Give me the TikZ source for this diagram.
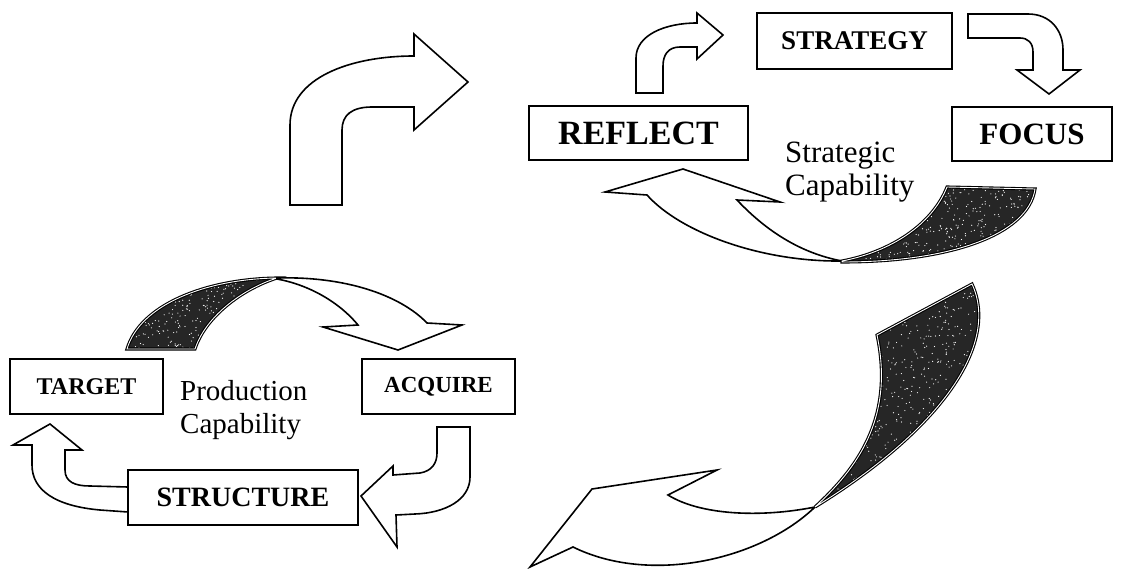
\documentclass[tikz,border=0pt]{standalone}
\usepackage{fontspec}
\setmainfont{Liberation Serif}
\usetikzlibrary{calc}
\begin{document}
\begin{tikzpicture}[x=1pt,y=-1pt,line join=miter,
  box/.style={draw,line width=1.7pt,fill=white,inner sep=0pt},
  blockarrow/.style={draw,line width=1.6pt,fill=white},
  darkpart/.style={draw,line width=1.1pt,double=white,double distance=0.9pt,fill=black!85,
    path picture={\foreach \i in {1,...,#1}{
      \fill[white] let \p1=(path picture bounding box.south west),
        \p2=(path picture bounding box.north east) in
        ({\x1+rnd*(\x2-\x1)},{\y1+rnd*(\y2-\y1)}) circle (0.6pt);}}},
  darkpart/.default=300,
  lbl/.style={inner sep=0pt,anchor=base west}]
\pgfmathsetseed{7}
\useasboundingbox (0,0) rectangle (1123,569);
\fill[white] (0,0) rectangle (1123,569);

% big left curved arrow
\draw[blockarrow] (290,205) -- (290,125) .. controls (290,78) and (350,56) .. (414,56)
  -- (414,34) -- (468,82) -- (414,130) -- (414,107) -- (372,107)
  .. controls (352,107) and (342,115) .. (342,130) -- (342,205) -- cycle;

% small arrow REFLECT -> STRATEGY
\draw[blockarrow] (636,93) -- (636,58) .. controls (636,35) and (665,23) .. (697,23)
  -- (697,13) -- (723,35) -- (697,59) -- (697,47) -- (680,47)
  .. controls (668,47) and (663,55) .. (663,66) -- (663,93) -- cycle;

% STRATEGY -> FOCUS
\draw[blockarrow] (968,14) -- (1028,14) .. controls (1050,14) and (1063,30) .. (1063,50)
  -- (1063,70) -- (1080,70) -- (1049,94) -- (1017,70) -- (1033,70) -- (1033,52)
  .. controls (1033,43) and (1028,38) .. (1020,38) -- (968,38) -- cycle;

% FOCUS -> REFLECT loop arrow
\draw[blockarrow] (605,192) -- (683,169) -- (780,202) -- (737,200)
  .. controls (770,235) and (805,254) .. (842,261)
  .. controls (760,262) and (680,232) .. (647,195) -- cycle;
\draw[darkpart=450] (842,261) .. controls (890,252) and (932,225) .. (947,187) -- (1035,189)
  .. controls (1028,235) and (950,262) .. (842,262) -- cycle;

% big lower-right arrow
\draw[blockarrow] (530,567) -- (592,489) -- (717,470) -- (668,495)
  .. controls (700,515) and (760,518) .. (815,507)
  .. controls (760,560) and (650,585) .. (573,547) -- cycle;
\draw[darkpart=900] (815,507) .. controls (855,470) and (895,420) .. (877,335) -- (972,284)
  .. controls (1000,345) and (940,430) .. (815,507) -- cycle;

% arc TARGET -> ACQUIRE
\draw[darkpart=350] (127,349) .. controls (140,305) and (205,279) .. (277,278)
  .. controls (240,290) and (205,318) .. (195,349) -- cycle;
\draw[blockarrow] (277,278) .. controls (345,276) and (400,295) .. (427,323) -- (462,325)
  -- (398,350) -- (323,327) -- (358,325) .. controls (340,303) and (310,285) .. (277,279) -- cycle;

% STRUCTURE -> TARGET
\draw[blockarrow] (128,512) -- (100,510) .. controls (55,506) and (32,490) .. (32,465)
  -- (32,445) -- (13,445) -- (50,424) -- (82,450) -- (65,450) -- (65,470)
  .. controls (65,482) and (75,486) .. (90,486) -- (128,487) -- cycle;

% ACQUIRE -> STRUCTURE
\draw[blockarrow] (437,427) -- (470,427) -- (470,477) .. controls (470,500) and (445,513) .. (415,514)
  -- (396,515) -- (397,547) -- (361,496) -- (393,466) -- (393,475) -- (420,473)
  .. controls (432,471) and (437,463) .. (437,453) -- cycle;

% boxes
\node[box,minimum width=195pt,minimum height=56pt,font=\bfseries\fontsize{27}{30}\selectfont] (strategy) at (854.5,41) {STRATEGY};
\node[box,minimum width=219pt,minimum height=54pt,font=\bfseries\fontsize{34}{38}\selectfont] (reflect) at (638.5,133) {REFLECT};
\node[box,minimum width=160pt,minimum height=54pt,font=\bfseries\fontsize{31}{34}\selectfont] (focus) at (1032,134) {FOCUS};
\node[box,minimum width=153pt,minimum height=55pt,font=\bfseries\fontsize{24}{28}\selectfont] (target) at (86.5,386.5) {TARGET};
\node[box,minimum width=153pt,minimum height=55pt,font=\bfseries\fontsize{23}{27}\selectfont] (acquire) at (438.5,386.5) {ACQUIRE};
\node[box,minimum width=230pt,minimum height=55pt,font=\bfseries\fontsize{28}{32}\selectfont] (structure) at (243,497.5) {STRUCTURE};

% labels
\node[lbl,font=\fontsize{31}{34}\selectfont] (strat1) at (785,163) {Strategic};
\node[lbl,font=\fontsize{31}{34}\selectfont] (strat2) at (785,196) {Capability};
\node[lbl,font=\fontsize{29}{33}\selectfont] (prod1) at (180,400) {Production};
\node[lbl,font=\fontsize{29}{33}\selectfont] (prod2) at (180,433) {Capability};
\end{tikzpicture}
\end{document}
